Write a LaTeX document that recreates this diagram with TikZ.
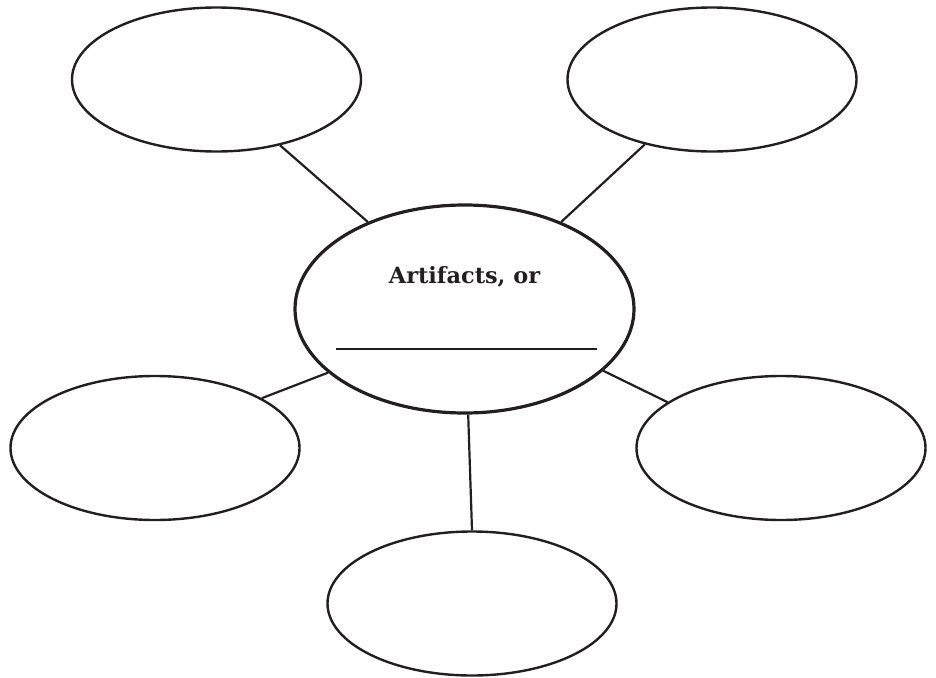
\documentclass[tikz,border=0pt]{standalone}
\usepackage{fontspec}
\setmainfont{DejaVu Serif}
\usetikzlibrary{shapes.geometric}
\definecolor{ink}{HTML}{231F20}
\begin{document}
\begin{tikzpicture}[x=1pt,y=-1pt,
  bubble/.style={ellipse,draw=ink,line width=2.4pt,inner sep=0pt,
    minimum width=289pt,minimum height=144pt},
  hub/.style={ellipse,draw=ink,line width=3.2pt,inner sep=0pt,
    minimum width=339pt,minimum height=208pt},
  spoke/.style={draw=ink,line width=2.2pt}]
  \useasboundingbox (0,0) rectangle (936,677);
  % central topic
  \node[hub] (c) at (464.5,309) {};
  \node[anchor=base,text=ink,font=\bfseries\fontsize{22.4}{26}\selectfont] (title) at (464.5,283) {Artifacts, or};
  \coordinate (ulA) at (336,349);
  \coordinate (ulB) at (597,349);
  \draw[ink,line width=2.8pt] (ulA) -- (ulB);
  % surrounding bubbles
  \node[bubble] (tl) at (216.5,79.5) {};
  \node[bubble] (tr) at (712,79.5) {};
  \node[bubble] (l) at (155,448) {};
  \node[bubble] (r) at (781,448) {};
  \node[bubble] (b) at (472,603.5) {};
  % spokes
  \draw[spoke] (tl.-46) -- (c.138.3);
  \draw[spoke] (tr.-136.5) -- (c.42.6);
  \draw[spoke] (l.25) -- (c.-155.9);
  \draw[spoke] (r.158.5) -- (c.-24.9);
  \draw[spoke] (b.90.8) -- (c.-88.6);
\end{tikzpicture}
\end{document}
